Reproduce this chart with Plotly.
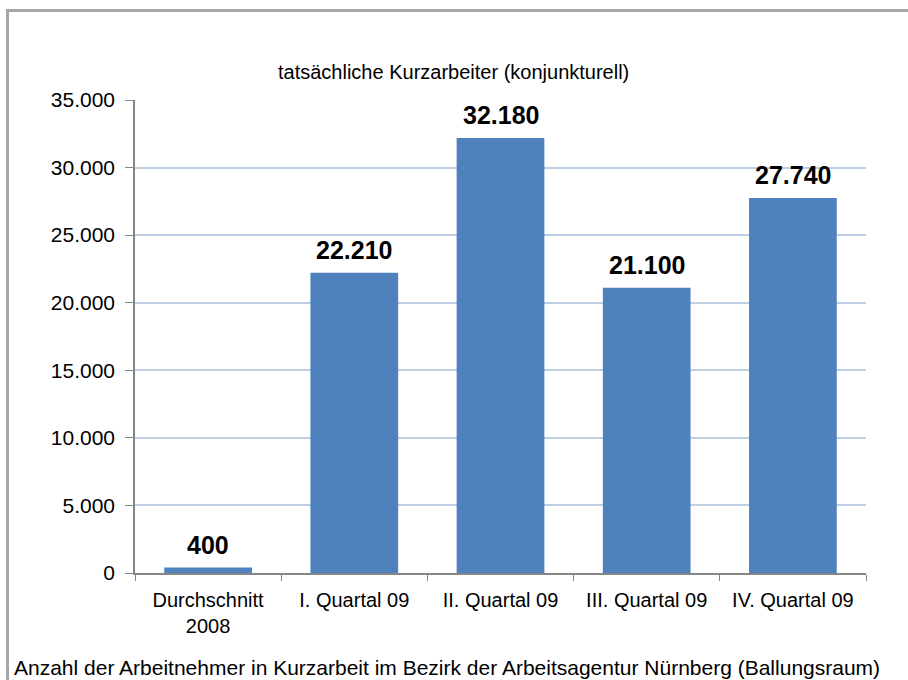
import plotly.graph_objects as go

# Kurzarbeit im Bezirk der Arbeitsagentur Nürnberg
categories = ["Durchschnitt<br>2008", "I. Quartal 09", "II. Quartal 09",
              "III. Quartal 09", "IV. Quartal 09"]
workers = [400, 22210, 32180, 21100, 27740]
y_ticks = [0, 5000, 10000, 15000, 20000, 25000, 30000, 35000]

FONT = "Liberation Sans Narrow, Arial Narrow, Liberation Sans, Arial, sans-serif"
W, H = 908, 680
L, R, T, B = 135, 42, 100, 107
PW, PH = W - L - R, H - T - B


def px_x(x):
    return (x - L) / PW


def px_y(y):
    return (H - B - y) / PH


def de_number(v):
    return f"{v:,d}".replace(",", ".")


fig = go.Figure(
    go.Bar(
        x=categories,
        y=workers,
        marker=dict(color="#4F81BD", line=dict(width=0)),
        hoverinfo="x+y",
    )
)

# value labels above each bar
value_labels = [
    dict(
        x=c, y=v, xref="x", yref="y",
        text=de_number(v),
        showarrow=False,
        xanchor="center", yanchor="bottom",
        yshift=7,
        font=dict(family=FONT, size=25, color="#000000", weight="bold"),
    )
    for c, v in zip(categories, workers)
]

fig.update_layout(
    width=W,
    height=H,
    margin=dict(l=L, r=R, t=T, b=B, pad=0),
    paper_bgcolor="white",
    plot_bgcolor="white",
    separators=",.",
    showlegend=False,
    bargap=0.4,
    font=dict(family=FONT, size=20, color="#000000"),
    xaxis=dict(
        type="category",
        showline=True,
        linecolor="#868686",
        linewidth=1.5,
        ticks="outside",
        tickson="boundaries",
        ticklen=6,
        tickcolor="#868686",
        ticklabelstandoff=8,
        tickfont=dict(family=FONT, size=20),
        showgrid=False,
    ),
    yaxis=dict(
        range=[0, 35000],
        tickvals=y_ticks,
        tickformat=",d",
        showline=True,
        linecolor="#868686",
        linewidth=1.5,
        ticks="outside",
        ticklen=8,
        tickcolor="#868686",
        ticklabelstandoff=6,
        showgrid=True,
        gridcolor="#BDCEE5",
        gridwidth=1.5,
        zeroline=False,
        tickfont=dict(family=FONT, size=21),
    ),
    annotations=value_labels + [
        dict(
            text="tatsächliche Kurzarbeiter (konjunkturell)",
            xref="paper", yref="paper",
            x=px_x(453), y=px_y(72),
            xanchor="center", yanchor="middle",
            showarrow=False,
            font=dict(family=FONT, size=20),
        ),
        dict(
            text="Anzahl der Arbeitnehmer in Kurzarbeit im Bezirk der Arbeitsagentur Nürnberg (Ballungsraum)",
            xref="paper", yref="paper",
            x=px_x(12), y=px_y(667),
            xanchor="left", yanchor="middle",
            showarrow=False,
            font=dict(family=FONT, size=21),
        ),
    ],
    shapes=[
        dict(
            type="rect",
            xref="paper", yref="paper",
            x0=px_x(7.5), x1=px_x(920),
            y0=px_y(700), y1=px_y(10.5),
            line=dict(color="#A6A6A6", width=3),
            fillcolor="rgba(0,0,0,0)",
            layer="below",
        )
    ],
)

fig.write_html("out.html")
